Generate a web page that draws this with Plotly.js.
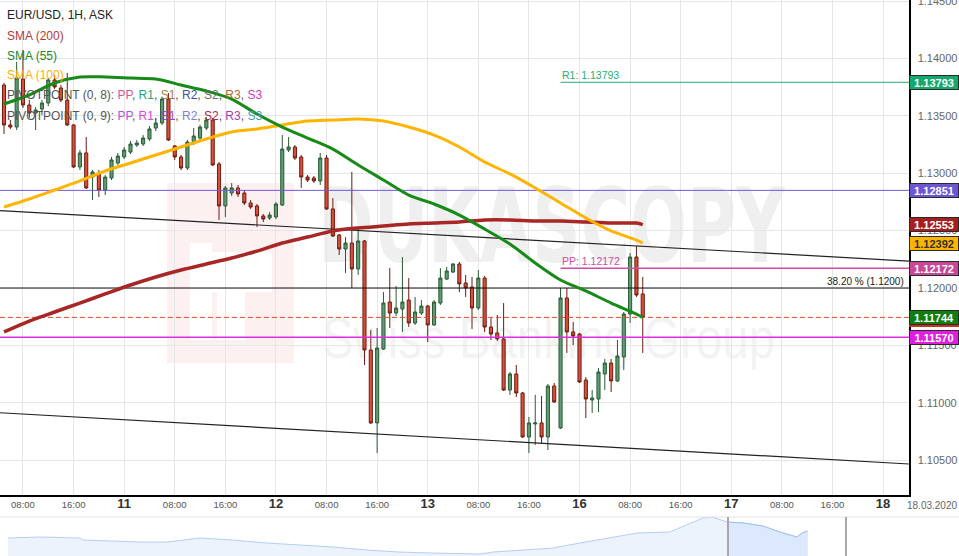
<!DOCTYPE html>
<html>
<head>
<meta charset="utf-8">
<script src="https://cdn.plot.ly/plotly-3.0.1.min.js"></script>
<style>html,body{margin:0;padding:0;background:#fff;}#chart{width:959px;height:556px;}</style>
</head>
<body>
<div id="chart"></div>
<script>
// ---------------- DATA ----------------
const candleOpen = [
1.13769,1.13421,1.13403,1.13821,1.13595,1.13525,1.13560,1.13612,1.13813,1.13743,
1.13638,1.13421,1.13055,1.13177,1.12967,1.13002,1.12854,1.12959,1.13089,1.13142,
1.13185,1.13246,1.13255,1.13299,1.13394,1.13438,1.13647,1.13238,1.13142,1.13046,
1.13264,1.13307,1.13394,1.13464,1.13081,1.12715,1.12828,1.12872,1.12828,1.12741,
1.12715,1.12628,1.12610,1.12619,1.12723,1.13203,1.13229,1.13142,1.12967,1.12959,
1.12933,1.13133,1.12689,1.12462,1.12340,1.12392,1.12166,1.12410,1.11460,1.10824,
1.11468,1.11878,1.11782,1.11817,1.11895,1.11695,1.11782,1.11843,1.11678,1.11869,
1.12078,1.12139,1.12209,1.12044,1.12009,1.11826,1.12087,1.11660,1.11608,1.11556,
1.11111,1.11251,1.11085,1.10702,1.10815,1.10824,1.10702,1.11146,1.10780,1.11913,
1.11617,1.11599,1.11198,1.11024,1.11033,1.11251,1.11346,1.11190,1.11399,1.11773,
1.12270,1.11948];
const candleHigh = [
1.13787,1.13464,1.13970,1.14074,1.13638,1.13577,1.13638,1.13830,1.13856,1.13769,
1.13874,1.13429,1.13203,1.13316,1.13028,1.13028,1.12985,1.13142,1.13177,1.13229,
1.13281,1.13290,1.13333,1.13412,1.13482,1.13665,1.13699,1.13246,1.13159,1.13290,
1.13394,1.13421,1.13490,1.13482,1.13098,1.12889,1.12915,1.12898,1.12854,1.12767,
1.12732,1.12645,1.12662,1.12750,1.13333,1.13316,1.13246,1.13159,1.12985,1.12976,
1.13177,1.13159,1.12784,1.12471,1.12444,1.13011,1.12532,1.12418,1.11634,1.11651,
1.11965,1.12174,1.12017,1.12270,1.12087,1.11922,1.11895,1.11852,1.11895,1.12174,
1.12183,1.12218,1.12227,1.12113,1.12096,1.12157,1.12105,1.11739,1.11765,1.11869,
1.11268,1.11329,1.11094,1.10876,1.11068,1.11059,1.11163,1.11172,1.12000,1.12000,
1.11704,1.11608,1.11224,1.11111,1.11303,1.11381,1.11381,1.11547,1.11791,1.12305,
1.12366,1.12096];
const candleLow = [
1.13342,1.13386,1.13377,1.13569,1.13482,1.13377,1.13508,1.13586,1.13734,1.13621,
1.13412,1.13046,1.13028,1.12863,1.12767,1.12793,1.12810,1.12941,1.13072,1.13124,
1.13168,1.13229,1.13238,1.13281,1.13368,1.13421,1.13281,1.13116,1.13028,1.13028,
1.13246,1.13290,1.13377,1.13063,1.12593,1.12619,1.12802,1.12793,1.12723,1.12689,
1.12532,1.12575,1.12593,1.12601,1.12715,1.13185,1.13116,1.12872,1.12924,1.12915,
1.12898,1.12680,1.12444,1.12288,1.12131,1.12000,1.12113,1.11329,1.10815,1.10562,
1.11460,1.11651,1.11756,1.11617,1.11660,1.11678,1.11765,1.11529,1.11669,1.11852,
1.12070,1.12131,1.11965,1.11922,1.11643,1.11808,1.11617,1.11547,1.11538,1.11102,
1.11068,1.11050,1.10693,1.10562,1.10632,1.10649,1.10588,1.10998,1.10771,1.11434,
1.11503,1.11172,1.10867,1.10911,1.10919,1.11111,1.11094,1.11181,1.11285,1.11695,
1.11922,1.11434];
const candleClose = [
1.13421,1.13403,1.13830,1.13595,1.13525,1.13551,1.13612,1.13813,1.13752,1.13638,
1.13421,1.13055,1.13177,1.12872,1.13011,1.12854,1.12967,1.13116,1.13150,1.13203,
1.13255,1.13264,1.13307,1.13386,1.13438,1.13647,1.13290,1.13142,1.13046,1.13272,
1.13325,1.13403,1.13464,1.13072,1.12715,1.12872,1.12872,1.12819,1.12741,1.12706,
1.12628,1.12601,1.12636,1.12732,1.13211,1.13229,1.13133,1.12967,1.12941,1.12933,
1.13133,1.12689,1.12453,1.12340,1.12392,1.12166,1.12410,1.11460,1.10824,1.11477,
1.11869,1.11782,1.11826,1.11878,1.11695,1.11791,1.11843,1.11678,1.11878,1.12087,
1.12148,1.12209,1.12035,1.12000,1.11826,1.12087,1.11660,1.11599,1.11556,1.11111,
1.11251,1.11085,1.10702,1.10824,1.10824,1.10702,1.11146,1.11007,1.11913,1.11617,
1.11582,1.11181,1.11033,1.11041,1.11268,1.11346,1.11190,1.11407,1.11773,1.12270,
1.11939,1.11744];

// SMA values read at every 4th candle (candle index) and at the last candle
const smaIndex = [0,4,8,12,16,20,24,28,32,36,40,44,48,52,56,60,64,68,72,76,80,84,88,92,96,100,101];
const sma55  = [1.13604,1.13682,1.13787,1.13839,1.13839,1.13830,1.13821,1.13769,1.13717,1.13647,1.13516,1.13403,1.13307,1.13211,1.13072,1.12941,1.12810,1.12732,1.12636,1.12514,1.12383,1.12218,1.12070,1.11974,1.11869,1.11773,1.11744];
const sma100 = [1.12706,1.12776,1.12854,1.12933,1.13020,1.13089,1.13159,1.13229,1.13299,1.13360,1.13386,1.13421,1.13455,1.13464,1.13473,1.13455,1.13403,1.13333,1.13229,1.13098,1.12994,1.12872,1.12741,1.12610,1.12497,1.12418,1.12392];
const sma200 = [1.11617,1.11712,1.11791,1.11869,1.11948,1.12026,1.12096,1.12157,1.12209,1.12261,1.12322,1.12392,1.12444,1.12497,1.12523,1.12540,1.12558,1.12566,1.12575,1.12593,1.12593,1.12584,1.12584,1.12575,1.12566,1.12566,1.12553];

// channel trendlines (start / end of view)
const trendTimes = ['2020-03-10 04:22', '2020-03-18 04:06'];
const trendUpper = [1.12674, 1.12235];
const trendLower = [1.10913, 1.10466];

// horizontal levels
const purpleLevel = 1.12851;
const fibLevel = 1.12000;
const lastPrice = 1.11744;
const magentaLevel = 1.11570;
const r1Level = 1.13793;
const ppLevel = 1.12172;
const pivotStart = '2020-03-15 21:00';

// price tags on the right axis
const tagPrices = [1.13793, 1.12851, 1.12553, 1.12392, 1.12172, 1.11744, 1.11570];

// x tick labels
const tickTimes = ['2020-03-10 08:00','2020-03-10 16:00','2020-03-11 00:00','2020-03-11 08:00','2020-03-11 16:00','2020-03-12 00:00','2020-03-12 08:00','2020-03-12 16:00','2020-03-13 00:00','2020-03-13 08:00','2020-03-13 16:00','2020-03-16 00:00','2020-03-16 08:00','2020-03-16 16:00','2020-03-17 00:00','2020-03-17 08:00','2020-03-17 16:00','2020-03-18 00:00'];
const tickLabels = ['08:00','16:00','11','08:00','16:00','12','08:00','16:00','13','08:00','16:00','16','08:00','16:00','17','08:00','16:00','18'];

// navigator (longer history)
const navDates = ['2020-01-01 00:00','2020-01-04 02:00','2020-01-07 22:00','2020-01-08 05:00','2020-01-13 16:00','2020-01-16 06:00','2020-01-19 10:00','2020-01-22 14:00','2020-01-25 21:00','2020-01-29 00:00','2020-02-01 05:00','2020-02-04 11:00','2020-02-07 14:00','2020-02-10 19:00','2020-02-15 07:00','2020-02-16 13:00','2020-02-19 10:00','2020-02-22 07:00','2020-02-24 21:00','2020-02-28 01:00','2020-03-01 09:00','2020-03-04 12:00','2020-03-06 11:00','2020-03-07 17:00','2020-03-08 16:00','2020-03-10 00:00','2020-03-11 13:00','2020-03-13 11:00','2020-03-15 02:00','2020-03-16 17:00','2020-03-17 05:00','2020-03-17 18:00'];
const navValues = [1.10907,1.11102,1.10907,1.10517,1.10127,1.10127,1.10907,1.10517,1.09933,1.09543,1.09153,1.08568,1.08178,1.07984,1.07789,1.08178,1.08568,1.08958,1.09933,1.11102,1.11882,1.12076,1.13831,1.14805,1.14950,1.14025,1.13831,1.13246,1.12076,1.11102,1.11882,1.12271];

// ---------------- BUILD ----------------
function pad(n){return (n<10?'0':'')+n;}
function fmt(ms){const d=new Date(ms);return d.getUTCFullYear()+'-'+pad(d.getUTCMonth()+1)+'-'+pad(d.getUTCDate())+' '+pad(d.getUTCHours())+':00';}
const gapStart = Date.UTC(2020,2,13,21), gapEnd = Date.UTC(2020,2,15,21);
const candleTimes = [];
let t = Date.UTC(2020,2,10,5);
while (candleTimes.length < candleOpen.length) {
  if (!(t >= gapStart && t < gapEnd)) candleTimes.push(fmt(t));
  t += 3600000;
}
const smaTimes = smaIndex.map(i => candleTimes[i]);
const xRange = ['2020-03-10 04:22', '2020-03-18 04:06'];
const FONT = 'Liberation Sans, Arial, sans-serif';

function hline(y, x0, x1, color, width, dash){
  return {type:'scatter', mode:'lines', x:[x0,x1], y:[y,y], xaxis:'x', yaxis:'y',
    line:{color:color, width:width, dash:dash||'solid'}, hoverinfo:'skip', showlegend:false, cliponaxis:true};
}

const navSplit = navDates.indexOf('2020-03-10 00:00');

const traces = [
  hline(purpleLevel, xRange[0], xRange[1], '#7457df', 1),
  hline(fibLevel, xRange[0], xRange[1], '#111111', 1),
  hline(magentaLevel, xRange[0], xRange[1], '#dd2fdd', 1.5),
  hline(lastPrice, xRange[0], xRange[1], '#e5482c', 1, '5px,3px'),
  hline(r1Level, pivotStart, xRange[1], '#1fae74', 1),
  hline(ppLevel, pivotStart, xRange[1], '#d04d9f', 1.5),
  {type:'scatter', mode:'lines', x:trendTimes, y:trendUpper, line:{color:'#222', width:1.2}, hoverinfo:'skip', showlegend:false},
  {type:'scatter', mode:'lines', x:trendTimes, y:trendLower, line:{color:'#222', width:1.2}, hoverinfo:'skip', showlegend:false},
  {type:'candlestick', x:candleTimes, open:candleOpen, high:candleHigh, low:candleLow, close:candleClose,
   xaxis:'x', yaxis:'y', whiskerwidth:0, hoverinfo:'skip', showlegend:false,
   increasing:{line:{color:'#2b5a37', width:1}, fillcolor:'#5e9d71'},
   decreasing:{line:{color:'#6b1c12', width:1}, fillcolor:'#d9503a'}},
  {type:'scatter', mode:'lines', x:smaTimes, y:sma200, line:{color:'#a82626', width:3.5, shape:'spline', smoothing:0.8}, hoverinfo:'skip', showlegend:false},
  {type:'scatter', mode:'lines', x:smaTimes, y:sma100, line:{color:'#ffb400', width:3, shape:'spline', smoothing:0.8}, hoverinfo:'skip', showlegend:false},
  {type:'scatter', mode:'lines', x:smaTimes, y:sma55, line:{color:'#178a17', width:3, shape:'spline', smoothing:0.8}, hoverinfo:'skip', showlegend:false},
  // navigator
  {type:'scatter', mode:'lines', x:navDates, y:navValues, xaxis:'x2', yaxis:'y2', fill:'tozeroy',
   fillcolor:'#edf3fd', line:{color:'#b3cff6', width:1}, hoverinfo:'skip', showlegend:false},
  {type:'scatter', mode:'lines', x:navDates.slice(navSplit), y:navValues.slice(navSplit), xaxis:'x2', yaxis:'y2', fill:'tozeroy',
   fillcolor:'#dce8fb', line:{color:'#9dc0f4', width:1}, hoverinfo:'skip', showlegend:false}
];

// annotations
const ann = [];
function legendLine(text, ypx, color){
  ann.push({xref:'paper', yref:'paper', x:5/959, y:1-ypx/556, xanchor:'left', yanchor:'middle', showarrow:false,
    text:text, font:{family:FONT, size:12, color:color}});
}
legendLine('EUR/USD, 1H, ASK', 15, '#222');
legendLine('SMA (200)', 35.5, '#b53a30');
legendLine('SMA (55)', 55.5, '#23871f');
legendLine('SMA (100)', 75.5, '#ffb000');
const c = (col, s) => '<span style="color:'+col+'">'+s+'</span>';
legendLine('PIVOTPOINT (0, 8): '+c('#d2579b','PP')+', '+c('#22a874','R1')+', '+c('#a2814c','S1')+', '+c('#3b55a6','R2')+', '+c('#6d6d6d','S2')+', '+c('#a36d3a','R3')+', '+c('#c63bc6','S3'), 95.5, '#555');
legendLine('PIVOTPOINT (0, 9): '+c('#b452e2','PP')+', '+c('#e244d9','R1')+', '+c('#9a3fcf','S1')+', '+c('#8282d6','R2')+', '+c('#b1284f','S2')+', '+c('#a23fb1','R3')+', '+c('#3d9dc1','S3'), 115.5, '#555');

ann.push({xref:'x', yref:'y', x:pivotStart, y:r1Level, xanchor:'left', yanchor:'bottom', showarrow:false, borderpad:0,
  text:'R1: '+r1Level.toFixed(5), font:{family:FONT, size:10.5, color:'#1fae74'}});
ann.push({xref:'x', yref:'y', x:pivotStart, y:ppLevel, xanchor:'left', yanchor:'bottom', showarrow:false, borderpad:0,
  text:'PP: '+ppLevel.toFixed(5), font:{family:FONT, size:10.5, color:'#d04d9f'}});
ann.push({xref:'paper', yref:'y', x:905/959, y:fibLevel, xanchor:'right', yanchor:'bottom', showarrow:false, borderpad:0,
  text:'38.20 % (1.1200)', font:{family:FONT, size:10, color:'#222'}});

const tagBg = ['#14a86c','#6d55d3','#a51f1f','#ffb400','#c64897','#0f7d0f','#e11de1'];
const tagFg = ['#fff','#fff','#fff','#333','#fff','#fff','#fff'];
tagPrices.forEach((p, i) => {
  if (i === 5) {
    ann.push({xref:'paper', yref:'y', x:909/959, y:p, xanchor:'left', yanchor:'middle', yshift:-2, showarrow:false,
      text:' ', width:46, height:11, bgcolor:'#c8321e', bordercolor:'#c8321e', borderwidth:1, borderpad:1, font:{size:10}});
  }
  ann.push({xref:'paper', yref:'y', x:909/959, y:p, xanchor:'left', yanchor:'middle', showarrow:false,
    text:'<b>'+p.toFixed(5)+'</b>', width:46, height:11, align:'center', bgcolor:tagBg[i], bordercolor:'#2a2a2a', borderwidth:1, borderpad:1,
    font:{family:FONT, size:11, color:tagFg[i]}});
});
ann.push({xref:'paper', yref:'paper', x:932/959, y:1-505/556, xanchor:'center', yanchor:'middle', showarrow:false,
  text:'18.03.2020', font:{family:FONT, size:10, color:'#666'}});

const tickText = tickLabels.map(s => s.length <= 2 ? '<span style="font-size:13px;color:#333"><b>'+s+'</b></span>' : s);

// watermark
const wm = '<svg xmlns="http://www.w3.org/2000/svg" width="959" height="556" viewBox="0 0 959 556">'+
 '<rect x="167" y="183" width="127" height="180" fill="#fdf0f0"/>'+
 '<rect x="190" y="243" width="22" height="97" fill="#ffffff"/>'+
 '<rect x="212" y="252" width="60" height="40" fill="#ffffff"/>'+
 '<rect x="217" y="292" width="28" height="48" fill="#ffffff"/>'+
 '<text x="318" y="262" font-family="DejaVu Sans" font-weight="bold" font-size="104" fill="#efefef" textLength="467" lengthAdjust="spacingAndGlyphs">DUKASCOPY</text>'+
 '<text x="322" y="358" font-family="Liberation Sans" font-size="58" fill="#f3f3f3" textLength="453" lengthAdjust="spacingAndGlyphs">Swiss Banking Group</text>'+
 '</svg>';

const layout = {
  width:959, height:556,
  margin:{l:0, r:0, t:0, b:0},
  paper_bgcolor:'#ffffff', plot_bgcolor:'rgba(0,0,0,0)',
  showlegend:false,
  font:{family:FONT},
  xaxis:{
    type:'date', domain:[0, 909/959], anchor:'y', range:xRange,
    rangebreaks:[{bounds:['2020-03-13 21:00','2020-03-15 21:00']}],
    rangeslider:{visible:false},
    tickmode:'array', tickvals:tickTimes, ticktext:tickText,
    tickfont:{family:FONT, size:9.5, color:'#555'},
    ticks:'', ticklabelstandoff:0,
    showgrid:true, gridcolor:'#e6e6e6', gridwidth:1,
    showline:true, linecolor:'#000', linewidth:1.5, zeroline:false, fixedrange:true
  },
  yaxis:{
    domain:[61/556, 1], anchor:'x', side:'right', range:[1.10196, 1.14510],
    tickmode:'linear', tick0:1.105, dtick:0.005, tickformat:'.5f',
    tickfont:{family:FONT, size:11, color:'#666'},
    ticks:'', ticklabelstandoff:5, ticklabeloverflow:'allow',
    showgrid:true, gridcolor:'#e6e6e6', gridwidth:1,
    showline:true, linecolor:'#000', linewidth:1.5, zeroline:false, fixedrange:true
  },
  xaxis2:{type:'date', domain:[0,1], anchor:'y2', range:['2019-12-31 05:34','2020-04-01 06:30'],
    showgrid:false, showticklabels:false, ticks:'', zeroline:false, showline:false, fixedrange:true},
  yaxis2:{domain:[0, 39/556], anchor:'x2', range:[1.0741, 1.1500],
    showgrid:false, showticklabels:false, ticks:'', zeroline:false, showline:false, fixedrange:true},
  shapes:[
    {type:'line', xref:'paper', yref:'paper', x0:0, x1:1, y0:39/556, y1:39/556, line:{color:'#e2e2e2', width:1}},
    {type:'line', xref:'paper', yref:'paper', x0:728/959, x1:728/959, y0:0, y1:39/556, line:{color:'#a8a8a8', width:2}},
    {type:'line', xref:'paper', yref:'paper', x0:846/959, x1:846/959, y0:0, y1:39/556, line:{color:'#a8a8a8', width:2}}
  ],
  images:[{source:'data:image/svg+xml;charset=utf-8,'+encodeURIComponent(wm), xref:'paper', yref:'paper',
    x:0, y:1, sizex:1, sizey:1, xanchor:'left', yanchor:'top', sizing:'stretch', layer:'below'}],
  annotations:ann
};

Plotly.newPlot('chart', traces, layout, {staticPlot:true, displayModeBar:false});
</script>
</body>
</html>
